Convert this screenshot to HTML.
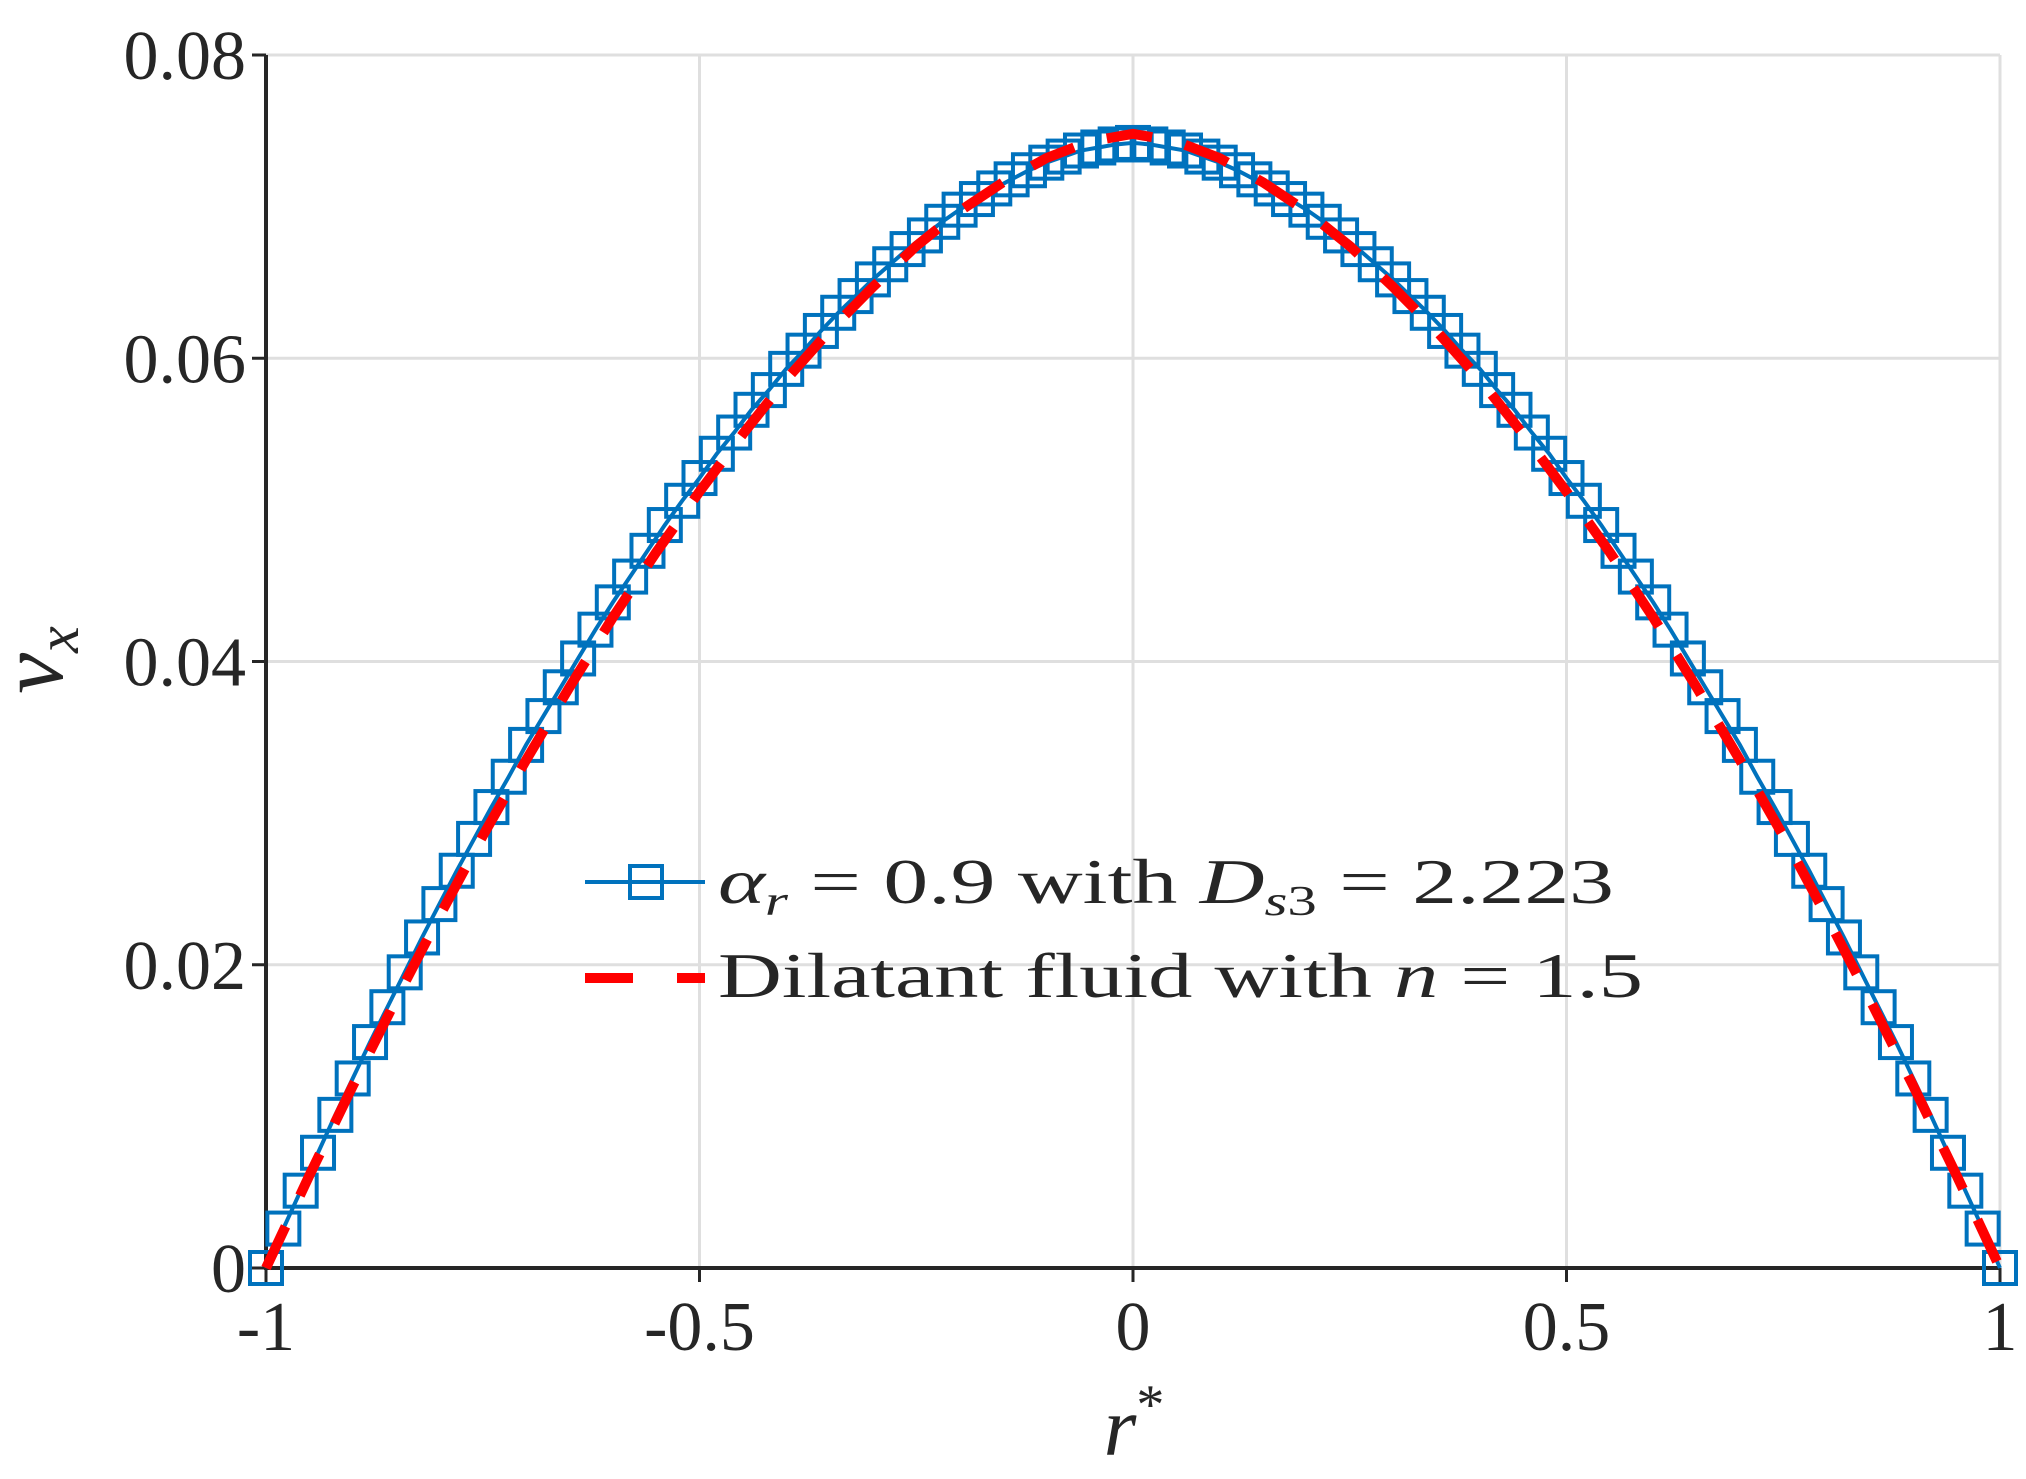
<!DOCTYPE html>
<html><head><meta charset="utf-8"><style>
html,body{margin:0;padding:0;background:#fff;}
svg{display:block;}
text{font-family:"Liberation Serif",serif;fill:#262626;}
</style></head><body>
<svg id="chart" width="2026" height="1479" viewBox="0 0 2026 1479">
<g id="grid"></g>
<g id="axes"></g>
<g id="series"></g>
<g id="legend">
  <line x1="585" y1="882" x2="705" y2="882" stroke="#0072BD" stroke-width="4"/>
  <rect x="630" y="866" width="32" height="32" fill="none" stroke="#0072BD" stroke-width="4"/>
  <text x="718" y="903" font-size="64" textLength="896" lengthAdjust="spacingAndGlyphs"><tspan font-style="italic">α</tspan><tspan font-style="italic" font-size="42" dy="12">r</tspan><tspan dy="-12"> = 0.9 with </tspan><tspan font-style="italic">D</tspan><tspan font-size="42" dy="12"><tspan font-style="italic">s</tspan>3</tspan><tspan dy="-12"> = 2.223</tspan></text>
  <line x1="585" y1="978" x2="705" y2="978" stroke="#FF0000" stroke-width="10" stroke-dasharray="48 44"/>
  <text x="718" y="997" font-size="64" textLength="925" lengthAdjust="spacingAndGlyphs">Dilatant fluid with <tspan font-style="italic">n</tspan> = 1.5</text>
</g>
<text x="62" y="660" font-size="92" font-style="italic" text-anchor="middle" transform="rotate(-90 62 660)">v<tspan font-size="60" dy="16">x</tspan></text>
<text x="1134" y="1455" font-size="84" font-style="italic" text-anchor="middle">r<tspan font-size="56" dy="-32" font-style="normal">*</tspan></text>
</svg>
<script>
const xTicks=[-1,-0.5,0,0.5,1];
const xTickLabels=['-1','-0.5','0','0.5','1'];
const yTicks=[0,0.02,0.04,0.06,0.08];
const yTickLabels=['0','0.02','0.04','0.06','0.08'];
const blueR=[];for(let i=0;i<=100;i++)blueR.push(+(-1+i*0.02).toFixed(2));
const blueHalf=[0.0742,0.0741,0.0739,0.0737,0.0733,0.0729,0.0724,0.0718,0.0712,0.0705,0.0698,0.0690,0.0681,0.0672,0.0662,0.0652,0.0641,0.0630,0.0618,0.0605,0.0593,0.0579,0.0566,0.0551,0.0537,0.0521,0.0506,0.0490,0.0473,0.0456,0.0439,0.0421,0.0402,0.0383,0.0364,0.0345,0.0324,0.0304,0.0283,0.0262,0.0240,0.0218,0.0195,0.0172,0.0149,0.0125,0.0101,0.0076,0.0051,0.0026,0];
const blueV=blueHalf.slice(1).reverse().concat(blueHalf);
const redR=[-1,-0.95,-0.9,-0.85,-0.8,-0.75,-0.7,-0.65,-0.6,-0.55,-0.5,-0.45,-0.4,-0.35,-0.3,-0.25,-0.2,-0.15,-0.1,-0.05,0,0.05,0.1,0.15,0.2,0.25,0.3,0.35,0.4,0.45,0.5,0.55,0.6,0.65,0.7,0.75,0.8,0.85,0.9,0.95,1];
const redV=[0,0.0061,0.0120,0.0177,0.0232,0.0285,0.0335,0.0383,0.0429,0.0472,0.0512,0.0550,0.0586,0.0618,0.0647,0.0674,0.0697,0.0716,0.0732,0.0743,0.0748,0.0743,0.0732,0.0716,0.0697,0.0674,0.0647,0.0618,0.0586,0.0550,0.0512,0.0472,0.0429,0.0383,0.0335,0.0285,0.0232,0.0177,0.0120,0.0061,0];

const L=266,R=2000,T=55,B=1268;
const xs=v=>L+(v+1)/2*(R-L);
const ys=v=>B-v/0.08*(B-T);
const NS='http://www.w3.org/2000/svg';
function mk(tag,attrs,parent){const e=document.createElementNS(NS,tag);for(const k in attrs)e.setAttribute(k,attrs[k]);parent.appendChild(e);return e;}
const grid=document.getElementById('grid'),axes=document.getElementById('axes'),series=document.getElementById('series');
xTicks.forEach((t,i)=>{
  const g=mk('line',{x1:xs(t),x2:xs(t),y1:T,y2:B,stroke:'#dfdfdf','stroke-width':3},grid);
  
  
  const tk=mk('line',{x1:xs(t),x2:xs(t),y1:B,y2:B+14,stroke:'#262626','stroke-width':3},axes);
  
  
  const tx=mk('text',{x:xs(t),y:1350,'font-size':70,'text-anchor':'middle'},axes);
  tx.textContent=xTickLabels[i];
  
  
});
yTicks.forEach((t,i)=>{
  const g=mk('line',{x1:L,x2:R,y1:ys(t),y2:ys(t),stroke:'#dfdfdf','stroke-width':3},grid);
  
  
  const tk=mk('line',{x1:L-14,x2:L,y1:ys(t),y2:ys(t),stroke:'#262626','stroke-width':3},axes);
  
  
  const tx=mk('text',{x:246,y:ys(t)+24,'font-size':70,'text-anchor':'end'},axes);
  tx.textContent=yTickLabels[i];
  
  
});
const ax=mk('path',{d:`M${L},${T}V${B}H${R}`,fill:'none',stroke:'#262626','stroke-width':4},axes);



const bl=mk('polyline',{points:blueR.map((r,i)=>xs(r)+','+ys(blueV[i])).join(' '),fill:'none',stroke:'#0072BD','stroke-width':4},series);


blueR.forEach((r,i)=>{
  const m=mk('rect',{x:xs(r)-16,y:ys(blueV[i])-16,width:32,height:32,fill:'none',stroke:'#0072BD','stroke-width':4},series);
  
  
});
const rl=mk('polyline',{points:redR.map((r,i)=>xs(r)+','+ys(redV[i])).join(' '),fill:'none',stroke:'#FF0000','stroke-width':10,'stroke-dasharray':'46 34'},series);


</script>
</body></html>
